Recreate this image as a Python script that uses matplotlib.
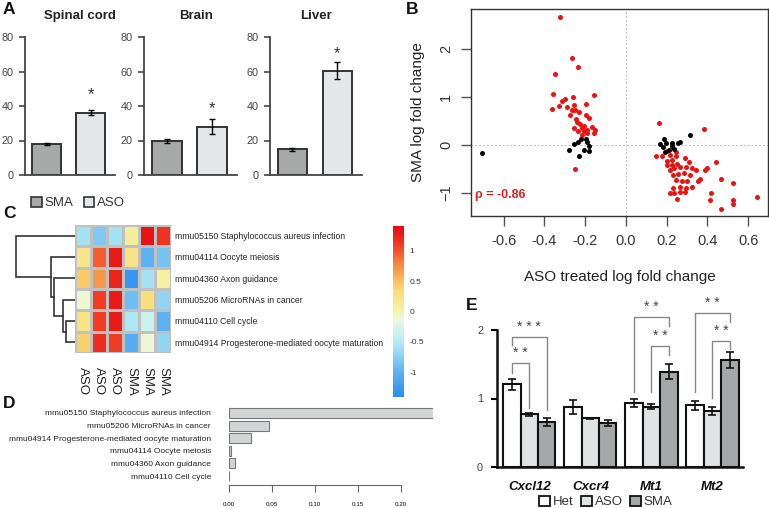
import matplotlib
matplotlib.use('Agg')
import matplotlib.pyplot as plt
from matplotlib.colors import LinearSegmentedColormap
from matplotlib.patches import Patch

plt.rcParams['font.family'] = ['Liberation Sans', 'DejaVu Sans']

W, H = 769, 508

# ---- panel A ----
tissues = ['Spinal cord', 'Brain', 'Liver']
a_groups = ['SMA', 'ASO']
a_means = [[18, 36.2], [19.5, 28], [15, 60.5]]
a_errs = [[0.7, 1.5], [1.2, 4.2], [0.8, 5.0]]

# ---- panel B ----
red_x = [-0.322, -0.263, -0.235, -0.348, -0.356, -0.155, -0.258, -0.300, -0.312, -0.363,
         -0.328, -0.288, -0.255, -0.196, -0.263, -0.250, -0.273, -0.229, -0.198, -0.180,
         -0.244, -0.239, -0.225, -0.256, -0.206, -0.216, -0.167, -0.150, -0.155, -0.193,
         -0.214, -0.206, -0.235, -0.190, -0.250,
         0.163, 0.381, 0.150, 0.175, 0.203, 0.245, 0.203, 0.224, 0.248, 0.289,
         0.307, 0.200, 0.226, 0.251, 0.216, 0.238, 0.265, 0.297, 0.322, 0.346,
         0.389, 0.397, 0.440, 0.232, 0.257, 0.286, 0.314, 0.363, 0.354, 0.464,
         0.523, 0.248, 0.273, 0.302, 0.322, 0.297, 0.265, 0.232, 0.216, 0.238,
         0.265, 0.289, 0.251, 0.415, 0.414, 0.464, 0.523, 0.526, 0.644, 0.216]
red_y = [2.67, 1.80, 1.63, 1.48, 1.05, 1.04, 0.99, 0.96, 0.92, 0.74,
         0.81, 0.78, 0.83, 0.86, 0.73, 0.73, 0.62, 0.68, 0.62, 0.56,
         0.55, 0.48, 0.43, 0.35, 0.40, 0.35, 0.38, 0.32, 0.25, 0.24,
         0.21, 0.29, 0.30, 0.31, -0.51,
         0.45, 0.34, -0.24, -0.24, -0.125, -0.15, -0.33, -0.31, -0.24, -0.28,
         -0.35, -0.42, -0.42, -0.40, -0.52, -0.49, -0.45, -0.45, -0.49, -0.52,
         -0.52, -0.49, -0.36, -0.63, -0.60, -0.58, -0.63, -0.71, -0.76, -0.70,
         -0.79, -0.73, -0.76, -0.76, -0.88, -0.90, -0.88, -0.90, -1.01, -1.01,
         -0.97, -0.99, -1.13, -1.01, -1.15, -1.33, -1.15, -1.22, -1.08, -0.21]
blk_x = [-0.706, -0.253, -0.234, -0.222, -0.198, -0.193, -0.180, -0.278, -0.206, -0.181, -0.230,
         0.186, 0.314, 0.167, 0.180, 0.196, 0.225, 0.225, 0.235, 0.256, 0.265, 0.191, 0.213]
blk_y = [-0.17, 0.01, 0.06, 0.12, 0.13, 0.06, -0.02, -0.10, -0.11, -0.13, -0.24,
         0.125, 0.20, 0.01, -0.04, 0.05, 0.05, -0.03, -0.09, 0.03, 0.06, -0.14, -0.10]
rho_text = '\u03c1 = -0.86'

# ---- panel C ----
pathways = ['mmu05150 Staphylococcus aureus infection', 'mmu04114 Oocyte meiosis',
            'mmu04360 Axon guidance', 'mmu05206 MicroRNAs in cancer',
            'mmu04110 Cell cycle', 'mmu04914 Progesterone-mediated oocyte maturation']
samples = ['ASO', 'ASO', 'ASO', 'SMA', 'SMA', 'SMA']
heat = [[-0.6, -0.8, -0.6, 0.1, 1.35, 1.15],
        [0.2, 0.95, 1.3, 0.25, -1.0, -0.85],
        [0.45, 0.7, 1.25, -1.3, -0.6, 0.05],
        [-0.1, 1.1, 1.3, -0.9, 0.3, -0.7],
        [0.25, 1.1, 1.3, -0.55, -0.35, -1.0],
        [0.4, 1.2, 1.1, -1.05, -0.1, -0.7]]
# merge heights for the chained clustering: row k joins cluster of rows k+1..
merge_h = [59, 24, 21, 12, 9]

# ---- panel D ----
d_paths = ['mmu05150 Staphylococcus aureus infection', 'mmu05206 MicroRNAs in cancer',
           'mmu04914 Progesterone-mediated oocyte maturation', 'mmu04114 Oocyte meiosis',
           'mmu04360 Axon guidance', 'mmu04110 Cell cycle']
d_vals = [0.24, 0.0465, 0.0253, 0.002, 0.0065, 0.0005]

# ---- panel E ----
genes = ['Cxcl12', 'Cxcr4', 'Mt1', 'Mt2']
e_groups = ['Het', 'ASO', 'SMA']
e_means = [[1.21, 0.88, 0.93, 0.90],
           [0.77, 0.71, 0.88, 0.82],
           [0.66, 0.64, 1.39, 1.56]]
e_errs = [[0.08, 0.10, 0.06, 0.07],
          [0.02, 0.01, 0.04, 0.06],
          [0.06, 0.04, 0.11, 0.12]]
# gene, bar i, bar j, top, left end, right end, label
brackets = [(0, 0, 1, 1.52, 1.37, 0.86, '* *'),
            (0, 0, 2, 1.90, 1.78, 0.83, '* * *'),
            (2, 0, 2, 2.19, 1.09, 2.06, '* *'),
            (2, 1, 2, 1.77, 1.09, 1.63, '* *'),
            (3, 0, 2, 2.25, 1.09, 2.12, '* *'),
            (3, 1, 2, 1.84, 1.01, 1.72, '* *')]

fig = plt.figure(figsize=(W / 100, H / 100), dpi=100)


def px_axes(x0, y0, x1, y1):
    return fig.add_axes([x0 / W, 1 - y1 / H, (x1 - x0) / W, (y1 - y0) / H])


def ftext(x, y, s, **kw):
    fig.text(x / W, 1 - y / H, s, **kw)


sma_col = '#a7a9a9'
aso_col = '#e4e7e9'

# panel A
a_pos = [(25, 115), (144, 237), (270, 362)]
a_title_x = [80, 196, 316]
a_star_y = [46.5, 38.5, 70.5]
for k, (x0, x1) in enumerate(a_pos):
    ax = px_axes(x0, 37, x1, 175)
    ax.bar([0, 1], a_means[k], width=0.66, color=[sma_col, aso_col],
           edgecolor='#333333', linewidth=1.4, yerr=a_errs[k],
           error_kw=dict(ecolor='black', elinewidth=1, capsize=2.5, capthick=1))
    ax.set_xlim(-0.5, 1.55)
    ax.set_ylim(0, 80)
    ax.set_yticks([0, 20, 40, 60, 80])
    ax.set_xticks([])
    for s in ['top', 'right']:
        ax.spines[s].set_visible(False)
    for s in ['left', 'bottom']:
        ax.spines[s].set_color('#444444')
        ax.spines[s].set_linewidth(1.3)
    ax.tick_params(axis='y', length=4, width=1.2, color='#444444', labelsize=7.8,
                   labelcolor='#444444', pad=4)
    ax.text(1, a_star_y[k], '*', ha='center', va='center', fontsize=12, color='#333333')
    ftext(a_title_x[k], 16, tissues[k], ha='center', va='center', fontsize=9.5,
          fontweight='bold', color='#222222')

fig.legend(handles=[Patch(facecolor=sma_col, edgecolor='#333333', lw=1.2),
                    Patch(facecolor=aso_col, edgecolor='#333333', lw=1.2)],
           labels=a_groups, loc='center', bbox_to_anchor=(78 / W, 1 - 203 / H),
           ncol=2, frameon=False, fontsize=9.5, handlelength=0.8, handleheight=0.8,
           handletextpad=0.2, columnspacing=0.8, labelcolor='#333333')

# panel B
axb = px_axes(471, 9, 768, 216)
axb.axhline(0, color='#bbbbbb', lw=0.7, ls=(0, (2, 2)), zorder=0)
axb.axvline(0, color='#bbbbbb', lw=0.7, ls=(0, (2, 2)), zorder=0)
axb.scatter(red_x, red_y, s=13, color='#ee1111', linewidths=0, zorder=2)
axb.scatter(blk_x, blk_y, s=13, color='black', linewidths=0, zorder=3)
axb.set_xlim(-0.76, 0.697)
axb.set_ylim(-1.48, 2.83)
axb.set_xticks([-0.6, -0.4, -0.2, 0.0, 0.2, 0.4, 0.6])
axb.set_xticklabels(['-0.6', '-0.4', '-0.2', '0.0', '0.2', '0.4', '0.6'])
axb.set_yticks([-1, 0, 1, 2])
for lab in axb.get_yticklabels():
    lab.set_rotation(90)
    lab.set_va('center')
for s in axb.spines.values():
    s.set_color('#333333')
    s.set_linewidth(1)
axb.tick_params(length=7, width=1, color='#555555', labelsize=10.5, labelcolor='#333333', pad=6)
axb.set_xlabel('ASO treated log fold change', fontsize=11, color='#222222', labelpad=16)
axb.set_ylabel('SMA log fold change', fontsize=11, color='#222222', labelpad=10)
axb.text(-0.74, -1.05, rho_text, fontsize=9, fontweight='bold', color='#e0201c',
         ha='left', va='center')

# panel C: dendrogram (chained merges, deepest first)
axd = px_axes(10, 225, 75, 353)
ctr = {4: (4 + 5) / 2}
for k in range(3, -1, -1):
    ctr[k] = (k + ctr[k + 1]) / 2
for k in range(5):
    child_h = merge_h[k + 1] if k + 1 < 5 else 0
    child_y = ctr[k + 1] if k + 1 < 5 else 5
    axd.plot([0, merge_h[k], merge_h[k], child_h], [k, k, child_y, child_y],
             color='#333333', lw=1.2, solid_joinstyle='miter')
axd.set_xlim(65, 0)
axd.set_ylim(5.5, -0.5)
axd.axis('off')

cmap = LinearSegmentedColormap.from_list('zs', [
    (0.00, '#2c8cf0'), (0.145, '#5cb2f0'), (0.32, '#b4ecf4'), (0.45, '#eaf8e4'),
    (0.50, '#f5f4a8'), (0.62, '#f8dc78'), (0.68, '#f8c060'), (0.78, '#f5863e'),
    (0.89, '#f03c24'), (1.00, '#e40a12')])
axh = px_axes(75, 225, 171, 353)
mesh = axh.pcolormesh(heat, cmap=cmap, vmin=-1.41, vmax=1.41,
                      edgecolors='#c0c0c0', linewidth=0.8)
axh.set_ylim(6, 0)
axh.set_xticks([i + 0.5 for i in range(6)])
axh.set_xticklabels(samples, rotation=-90, fontsize=9.5, color='#222222')
axh.set_yticks([i + 0.5 for i in range(6)])
axh.set_yticklabels(pathways, fontsize=6.2, color='#222222')
axh.yaxis.tick_right()
axh.tick_params(length=0, pad=3)
axh.tick_params(axis='x', pad=10)
for s in axh.spines.values():
    s.set_visible(False)

cax = px_axes(393, 226, 404, 397)
cb = fig.colorbar(mesh, cax=cax)
cb.set_ticks([-1, -0.5, 0, 0.5, 1])
cb.set_ticklabels(['-1', '-0.5', '0', '0.5', '1'])
cb.ax.tick_params(length=0, labelsize=6, labelcolor='#333333', pad=4)
cb.outline.set_visible(False)

# panel D
axdd = px_axes(229, 405, 433, 485)
axdd.barh(range(len(d_vals)), d_vals, height=0.8, color='#d2d5d6', edgecolor='#777777', lw=0.8)
axdd.set_ylim(5.71, -0.63)
axdd.set_xlim(0, 0.237)
axdd.set_yticks(range(len(d_paths)))
axdd.set_yticklabels(d_paths, fontsize=6.0, color='#222222')
axdd.set_xticks([0, 0.05, 0.10, 0.15, 0.20])
axdd.set_xticklabels(['0.00', '0.05', '0.10', '0.15', '0.20'])
axdd.tick_params(axis='y', length=0, pad=13)
axdd.tick_params(axis='x', length=5, width=0.8, color='#666666', labelsize=4.5, pad=7)
for s in ['top', 'right', 'left']:
    axdd.spines[s].set_visible(False)
axdd.spines['bottom'].set_color('#666666')
axdd.spines['bottom'].set_linewidth(0.8)
axdd.spines['bottom'].set_bounds(0, 0.2)

# panel E
e_cols = ['white', '#e0e3e4', '#a5a8a8']
bw = 0.285
axe = px_axes(497, 330, 743, 467)
for b in range(3):
    xs = [g + (b - 1) * bw for g in range(4)]
    axe.bar(xs, e_means[b], width=bw, color=e_cols[b], edgecolor='#111111', lw=1.5,
            yerr=e_errs[b], error_kw=dict(ecolor='#111111', elinewidth=1.2, capsize=3, capthick=1.2),
            label=e_groups[b])
for g, i, j, top, yl, yr, lab in brackets:
    xi = g + (i - 1) * bw
    xj = g + (j - 1) * bw
    axe.plot([xi, xi, xj, xj], [yl, top, top, yr], color='#888888', lw=1, clip_on=False)
    axe.text((xi + xj) / 2, top + 0.04, lab, ha='center', va='bottom', fontsize=10,
             color='#444444')
axe.set_xlim(-0.53, 3.5)
axe.set_ylim(0, 2)
axe.set_yticks([0, 1, 2])
axe.set_xticks(range(4))
axe.set_xticklabels(genes, fontsize=9.5, fontweight='bold', fontstyle='italic', color='#111111')
axe.tick_params(axis='x', length=0, pad=10)
axe.tick_params(axis='y', length=4, width=1.5, labelsize=7.8, labelcolor='#444444', pad=6)
for s in ['top', 'right']:
    axe.spines[s].set_visible(False)
for s in ['left', 'bottom']:
    axe.spines[s].set_linewidth(1.8)
    axe.spines[s].set_color('#111111')
fig.legend(handles=[Patch(facecolor=c, edgecolor='#111111', lw=1.3) for c in e_cols],
           labels=e_groups, loc='center', bbox_to_anchor=(606 / W, 1 - 502 / H),
           ncol=3, frameon=False, fontsize=9.5, handlelength=0.8, handleheight=0.8,
           handletextpad=0.2, columnspacing=0.6, labelcolor='#333333')

# panel letters
for lab, x, y in [('A', 9, 10), ('B', 412, 9), ('C', 9, 214), ('D', 9, 404), ('E', 472, 306)]:
    ftext(x, y, lab, fontsize=12.5, fontweight='bold', ha='center', va='center', color='#111111')

fig.savefig('out.png', dpi=100)
